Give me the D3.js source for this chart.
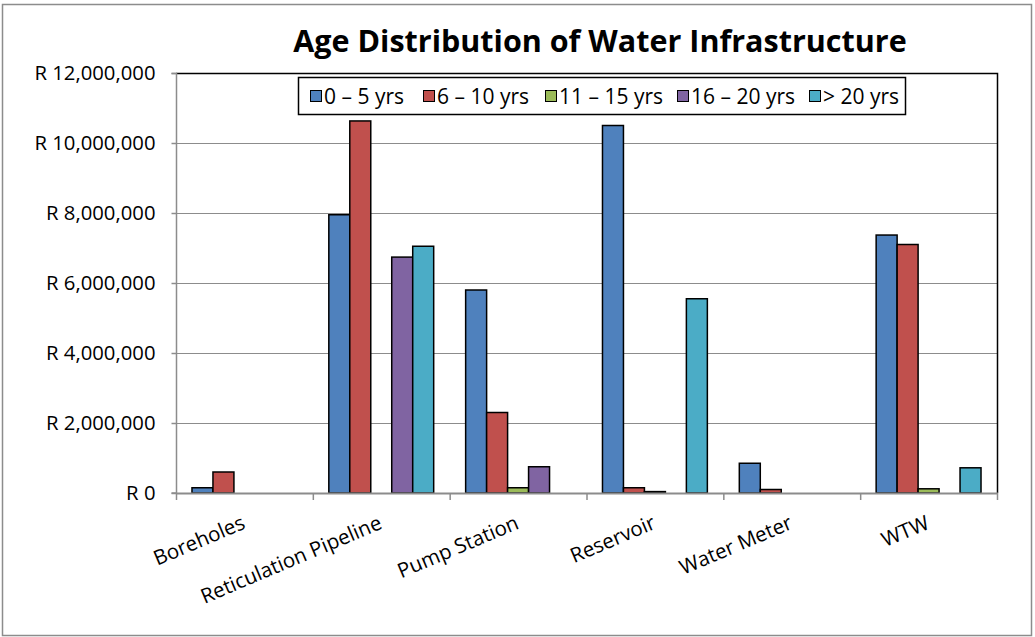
<!DOCTYPE html>
<html><head><meta charset="utf-8">
<script src="https://cdn.jsdelivr.net/npm/d3@7"></script>
<style>body{margin:0;background:#fff;} svg{display:block;font-family:"Open Sans",sans-serif;}</style>
</head><body>
<svg id="c" width="1035" height="637"></svg>
<script>
const categories = ["Boreholes","Reticulation Pipeline","Pump Station","Reservoir","Water Meter","WTW"];
const seriesNames = ["0 \u2013 5 yrs","6 \u2013 10 yrs","11 \u2013 15 yrs","16 \u2013 20 yrs","> 20 yrs"];
const colors = ["#4f81bd","#c0504d","#9bbb59","#8064a2","#4bacc6"];
const s0_5   = [150000, 7950000, 5800000, 10500000, 850000, 7370000];
const s6_10  = [600000, 10630000, 2300000, 150000, 100000, 7100000];
const s11_15 = [0, 0, 150000, 40000, 0, 120000];
const s16_20 = [0, 6740000, 750000, 0, 0, 0];
const s20p   = [0, 7050000, 0, 5550000, 0, 720000];
const yTicks = [0,2000000,4000000,6000000,8000000,10000000,12000000];
const series = [s0_5, s6_10, s11_15, s16_20, s20p];

const svg = d3.select("#c");
const L=176, R=997, T=73, B=493;

svg.append("rect").attr("x",2.5).attr("y",4.5).attr("width",1029).attr("height",631)
  .attr("fill","#fff").attr("stroke","#8c8c8c").attr("stroke-width",1.5);

const x = d3.scaleBand().domain(categories).range([L,R]).paddingInner(0).paddingOuter(0);
const xs = d3.scaleBand().domain(d3.range(5)).range([0,x.bandwidth()]).paddingOuter(16/21).paddingInner(0);
const y = d3.scaleLinear().domain([0,12000000]).range([B,T]);

// gridlines
svg.append("g").selectAll("line").data(yTicks.slice(1)).join("line")
  .attr("x1",L).attr("x2",R).attr("y1",d=>y(d)+0.5).attr("y2",d=>y(d)+0.5)
  .attr("stroke","#8c8c8c").attr("stroke-width",1);

// plot border top/right
svg.append("path").attr("d",`M${L},${T+0.5}H${R+0.5}V${B}`).attr("fill","none").attr("stroke","#000").attr("stroke-width",1.5);

// bars
const fmt = d3.format(",");
series.forEach((vals,si)=>{
  svg.append("g").selectAll("rect").data(vals.map((v,i)=>({v,c:categories[i]}))).join("rect")
    .attr("x",d=>x(d.c)+xs(si)).attr("width",xs.bandwidth())
    .attr("y",d=>y(d.v)).attr("height",d=>y(0)-y(d.v))
    .attr("fill",colors[si]).attr("stroke","#000").attr("stroke-width",1.5)
    .style("display",d=>d.v>0?null:"none");
});

// y axis
const yAxis = d3.axisLeft(y).tickValues(yTicks).tickSize(5).tickPadding(16)
  .tickFormat(d=>"R "+fmt(d));
const ga = svg.append("g").attr("transform",`translate(${L+0.5},0)`).call(yAxis);
ga.select(".domain").attr("stroke","#8c8c8c").attr("stroke-width",1.5).attr("d",`M-5,${T+0.5}H0V${B}H-5`);
ga.selectAll(".tick line").attr("stroke","#8c8c8c").attr("stroke-width",1.5);
ga.selectAll("text").attr("font-size",20.3).attr("fill","#000").attr("font-family","Open Sans");

// x axis
svg.append("line").attr("x1",L).attr("x2",R+1).attr("y1",B+0.5).attr("y2",B+0.5).attr("stroke","#8c8c8c").attr("stroke-width",2);
const xt = categories.map(c=>x(c)).concat([R]);
svg.append("g").selectAll("line").data(xt).join("line")
  .attr("x1",d=>d+0.5).attr("x2",d=>d+0.5).attr("y1",B).attr("y2",B+7).attr("stroke","#8c8c8c").attr("stroke-width",1.5);
svg.append("g").selectAll("text").data(categories).join("text")
  .attr("transform",d=>`translate(${x(d)+x.bandwidth()/2+2},${B+35}) rotate(-23)`)
  .attr("text-anchor","end").attr("font-size",20.5).attr("fill","#000").text(d=>d);

// title
svg.append("text").attr("x",600).attr("y",52).attr("text-anchor","middle")
  .attr("font-size",30.5).attr("font-weight","bold").attr("fill","#000")
  .text("Age Distribution of Water Infrastructure");

// legend
const lg = svg.append("g");
lg.append("rect").attr("x",298.5).attr("y",77.5).attr("width",607).attr("height",37).attr("fill","#fff").attr("stroke","#000").attr("stroke-width",1.5);
const lx = [310,423,545,677,809];
seriesNames.forEach((n,i)=>{
  lg.append("rect").attr("x",lx[i]+0.5).attr("y",90.5).attr("width",11).attr("height",11).attr("fill",colors[i]).attr("stroke","#000").attr("stroke-width",1);
  lg.append("text").attr("x",lx[i]+14).attr("y",103.5).attr("font-size",21).attr("fill","#000").text(n);
});
</script>
</body></html>
